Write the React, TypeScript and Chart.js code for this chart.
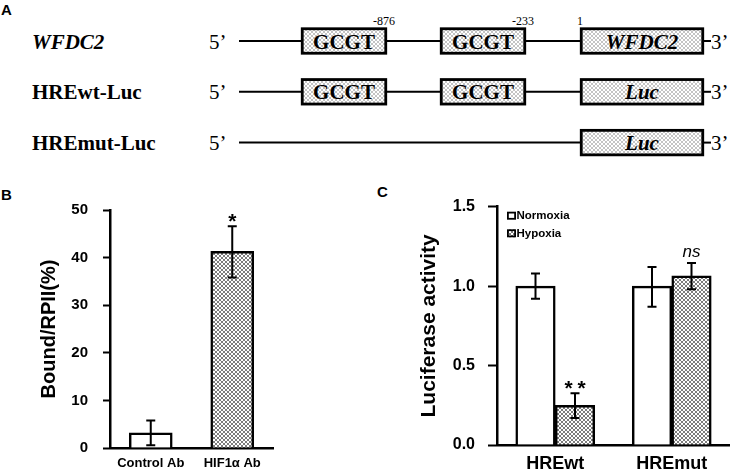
import React, { useEffect, useRef } from "react";
import { Chart, registerables } from "chart.js";

Chart.register(...registerables);

// ---------- Panel A (schematic) ----------
const constructNames = ["WFDC2", "HREwt-Luc", "HREmut-Luc"];
const constructItalic = [true, false, false];
const reporterNames = ["WFDC2", "Luc", "Luc"];
const hreCounts = [2, 2, 0];
const hreElement = "GCGT";
const hreSiteLabels = ["-876", "-233"];
const tssLabel = "1";

// ---------- Panel B (ChIP) ----------
const chipCategories = ["Control Ab", "HIF1α Ab"];
const chipValues = [3.2, 41.3];
const chipErrLow = [0.6, 35.8];
const chipErrHigh = [5.8, 46.6];
const chipMarks = ["", "*"];
const chipYTicks = [0, 10, 20, 30, 40, 50];

// ---------- Panel C (Luciferase) ----------
const lucCategories = ["HREwt", "HREmut"];
const normoxiaValues = [1.0, 1.0];
const normoxiaErrLow = [0.92, 0.87];
const normoxiaErrHigh = [1.08, 1.12];
const hypoxiaValues = [0.25, 1.065];
const hypoxiaErrLow = [0.17, 0.98];
const hypoxiaErrHigh = [0.325, 1.145];
const hypoxiaMarks = ["**", "ns"];
const lucYTicks = [0, 0.5, 1.0, 1.5];

const SANS = "Arial, 'Liberation Sans', sans-serif";
const SERIF = "'Liberation Serif', 'Times New Roman', serif";

function makeHatch(color: string): CanvasPattern | string {
  const tile = document.createElement("canvas");
  tile.width = 4;
  tile.height = 4;
  const c = tile.getContext("2d");
  if (!c) return "#ccc";
  c.fillStyle = "#ffffff";
  c.fillRect(0, 0, 4, 4);
  c.fillStyle = color;
  for (let i = 0; i < 4; i++) {
    c.fillRect(i, i, 1, 1);
    c.fillRect(3 - i, i, 1, 1);
  }
  const main = document.createElement("canvas").getContext("2d");
  return (main && main.createPattern(tile, "repeat")) || "#ccc";
}

const errorBarPlugin = {
  id: "errorBars",
  afterDatasetsDraw(chart: any) {
    const ctx = chart.ctx;
    const yScale = chart.scales.y;
    chart.data.datasets.forEach((ds: any, di: number) => {
      if (!ds.errLow) return;
      const meta = chart.getDatasetMeta(di);
      meta.data.forEach((bar: any, i: number) => {
        const x = bar.x;
        const lo = yScale.getPixelForValue(ds.errLow[i]);
        const hi = yScale.getPixelForValue(ds.errHigh[i]);
        ctx.save();
        ctx.strokeStyle = "#000";
        ctx.lineWidth = 2;
        ctx.beginPath();
        ctx.moveTo(x, lo);
        ctx.lineTo(x, hi);
        ctx.moveTo(x - 4.5, lo);
        ctx.lineTo(x + 4.5, lo);
        ctx.moveTo(x - 4.5, hi);
        ctx.lineTo(x + 4.5, hi);
        ctx.stroke();
        const mark = ds.marks ? ds.marks[i] : "";
        if (mark) {
          ctx.fillStyle = "#000";
          ctx.textAlign = "center";
          ctx.textBaseline = "alphabetic";
          if (/^\*+$/.test(mark)) {
            ctx.font = `bold 21px ${SANS}`;
            const n = mark.length;
            for (let k = 0; k < n; k++) {
              ctx.fillText("*", x - ((n - 1) * 13) / 2 + k * 13, hi + 1.5);
            }
          } else {
            ctx.font = `italic 17px ${SANS}`;
            ctx.fillText(mark, x, hi - 6.5);
          }
        }
        ctx.restore();
      });
    });
  },
};

const boxLegendPlugin = {
  id: "boxLegend",
  afterDraw(chart: any) {
    const opts = chart.options.plugins.boxLegend;
    if (!opts || !opts.display) return;
    const ctx = chart.ctx;
    const { left, top } = chart.chartArea;
    chart.data.datasets.forEach((ds: any, i: number) => {
      const cy = top + 9 + i * 17.6;
      ctx.save();
      ctx.fillStyle = ds.backgroundColor;
      ctx.fillRect(left + 10, cy - 4, 9, 8);
      ctx.strokeStyle = "#000";
      ctx.lineWidth = 1.8;
      ctx.strokeRect(left + 10.9, cy - 3.1, 7.2, 6.2);
      ctx.fillStyle = "#000";
      ctx.font = `bold 11.5px ${SANS}`;
      ctx.textAlign = "left";
      ctx.textBaseline = "middle";
      ctx.fillText(ds.label, left + 19.5, cy + 0.5);
      ctx.restore();
    });
  },
};

function yAxis(min: number, max: number, step: number, ticks: number[], width: number, title: string, titleSize: number, titlePad: number, tickSize: number, tickLen: number, tickPad: number, decimals: number) {
  return {
    type: "linear" as const,
    min,
    max,
    afterBuildTicks: (scale: any) => {
      scale.ticks = ticks.map((v) => ({ value: v }));
    },
    afterFit: (scale: any) => {
      scale.width = width;
    },
    ticks: {
      stepSize: step,
      color: "#000",
      padding: tickPad,
      font: { family: SANS, weight: "bold" as const, size: tickSize },
      callback: (v: any) => Number(v).toFixed(decimals),
    },
    grid: {
      display: true,
      drawOnChartArea: false,
      drawTicks: true,
      tickLength: tickLen,
      tickWidth: 2,
      tickColor: "#000",
    },
    border: { display: true, color: "#000", width: 2.5 },
    title: {
      display: true,
      text: title,
      color: "#000",
      font: { family: SANS, weight: "bold" as const, size: titleSize },
      padding: { top: titlePad, bottom: 0 },
    },
  };
}

function xAxis(height: number, fontSize: number, pad: number) {
  return {
    type: "category" as const,
    offset: true,
    afterFit: (scale: any) => {
      scale.height = height;
    },
    grid: { display: false, drawTicks: false },
    border: { display: true, color: "#000", width: 2.5 },
    ticks: {
      color: "#000",
      padding: pad,
      maxRotation: 0,
      autoSkip: false,
      font: { family: SANS, weight: "bold" as const, size: fontSize },
    },
  };
}

export default function App() {
  const bRef = useRef<HTMLCanvasElement>(null);
  const cRef = useRef<HTMLCanvasElement>(null);

  useEffect(() => {
    const hatch = makeHatch("#7d7d7d");
    const charts: Chart[] = [];
    if (bRef.current) {
      charts.push(
        new Chart(bRef.current, {
          type: "bar",
          data: {
            labels: chipCategories,
            datasets: [
              {
                label: "ChIP",
                data: chipValues,
                backgroundColor: ["#ffffff", hatch] as any,
                borderColor: "#000",
                borderWidth: 2.5,
                borderSkipped: "bottom",
                barThickness: 43,
                errLow: chipErrLow,
                errHigh: chipErrHigh,
                marks: chipMarks,
              } as any,
            ],
          },
          options: {
            responsive: false,
            animation: false,
            devicePixelRatio: 1,
            layout: { padding: { top: 30, right: 27, left: 0, bottom: 0 } },
            plugins: { legend: { display: false }, tooltip: { enabled: false } },
            scales: {
              x: xAxis(22, 13, 8),
              y: yAxis(0, 50, 10, chipYTicks, 110, "Bound/RPII(%)", 20, 37.5, 15, 7, 15, 0),
            } as any,
          },
          plugins: [errorBarPlugin],
        })
      );
    }
    if (cRef.current) {
      charts.push(
        new Chart(cRef.current, {
          type: "bar",
          data: {
            labels: lucCategories,
            datasets: [
              {
                label: "Normoxia",
                data: normoxiaValues,
                backgroundColor: "#ffffff",
                borderColor: "#000",
                borderWidth: 2.5,
                borderSkipped: "bottom",
                barThickness: 39.5,
                errLow: normoxiaErrLow,
                errHigh: normoxiaErrHigh,
              } as any,
              {
                label: "Hypoxia",
                data: hypoxiaValues,
                backgroundColor: hatch as any,
                borderColor: "#000",
                borderWidth: 2.5,
                borderSkipped: "bottom",
                barThickness: 39.5,
                errLow: hypoxiaErrLow,
                errHigh: hypoxiaErrHigh,
                marks: hypoxiaMarks,
              } as any,
            ],
          },
          options: {
            responsive: false,
            animation: false,
            devicePixelRatio: 1,
            layout: { padding: { top: 26.7, right: 0, left: 0, bottom: 0 } },
            plugins: {
              legend: { display: false },
              tooltip: { enabled: false },
              boxLegend: { display: true },
            } as any,
            scales: {
              x: xAxis(27, 18, 8),
              y: yAxis(0, 1.5, 0.5, lucYTicks, 137, "Luciferase activity", 21, 57, 16, 9, 13, 1),
            } as any,
          },
          plugins: [errorBarPlugin, boxLegendPlugin],
        })
      );
    }
    return () => charts.forEach((c) => c.destroy());
  }, []);

  // schematic layout
  const rowY0 = 41;
  const rowGap = 50.8;
  const lineStart = 239;
  const hreBoxX = [301, 440];
  const hreBoxW = 86;
  const repX = 580;
  const repW = 124;
  const boxH = 27;

  return (
    <div style={{ position: "absolute", left: 0, top: 0, width: 730, height: 472, background: "#fff", overflow: "hidden" }}>
      <svg width={730} height={472} style={{ position: "absolute", left: 0, top: 0 }}>
        <defs>
          <pattern id="hatchA" width="4" height="4" patternUnits="userSpaceOnUse">
            <rect width="4" height="4" fill="#fff" />
            <path d="M0,0L4,4M4,0L0,4" stroke="#bdbdbd" strokeWidth="0.9" />
          </pattern>
        </defs>
        <text x={1} y={15} fontFamily={SANS} fontWeight="bold" fontSize={15}>A</text>
        <text x={1} y={200} fontFamily={SANS} fontWeight="bold" fontSize={15}>B</text>
        <text x={377} y={197} fontFamily={SANS} fontWeight="bold" fontSize={15}>C</text>
        {constructNames.map((name, i) => {
          const y = rowY0 + i * rowGap;
          const base = y + 7.5;
          return (
            <g key={name}>
              <text x={32} y={base} fontFamily={SERIF} fontWeight="bold" fontStyle={constructItalic[i] ? "italic" : "normal"} fontSize={21}>{name}</text>
              <text x={209} y={base} fontFamily={SERIF} fontSize={21}>5’</text>
              <line x1={lineStart} y1={y} x2={repX} y2={y} stroke="#000" strokeWidth={2} />
              {hreBoxX.slice(0, hreCounts[i]).map((bx, k) => (
                <g key={k}>
                  <rect x={bx + 1.25} y={y - boxH / 2 + 1.25} width={hreBoxW - 2.5} height={boxH - 2.5} fill="url(#hatchA)" stroke="#000" strokeWidth={2.8} />
                  <text x={bx + hreBoxW / 2} y={base} textAnchor="middle" fontFamily={SERIF} fontWeight="bold" fontSize={21}>{hreElement}</text>
                  {i === 0 && (
                    <text x={bx + hreBoxW + 8} y={25} textAnchor="end" fontFamily={SERIF} fontSize={12}>{hreSiteLabels[k]}</text>
                  )}
                </g>
              ))}
              <rect x={repX + 1.25} y={y - boxH / 2 + 1.25} width={repW - 2.5} height={boxH - 2.5} fill="url(#hatchA)" stroke="#000" strokeWidth={2.8} />
              <text x={repX + repW / 2} y={base} textAnchor="middle" fontFamily={SERIF} fontWeight="bold" fontStyle="italic" fontSize={21}>{reporterNames[i]}</text>
              <line x1={repX + repW} y1={y} x2={711} y2={y} stroke="#000" strokeWidth={2} />
              <text x={711} y={base} fontFamily={SERIF} fontSize={21}>3’</text>
              {i === 0 && (
                <text x={repX - 3} y={25} fontFamily={SERIF} fontSize={12}>{tssLabel}</text>
              )}
            </g>
          );
        })}
      </svg>
      <canvas ref={bRef} width={300} height={292} style={{ position: "absolute", left: 0, top: 180, width: 300, height: 292 }} />
      <canvas ref={cRef} width={370} height={292} style={{ position: "absolute", left: 360, top: 180, width: 370, height: 292 }} />
    </div>
  );
}
